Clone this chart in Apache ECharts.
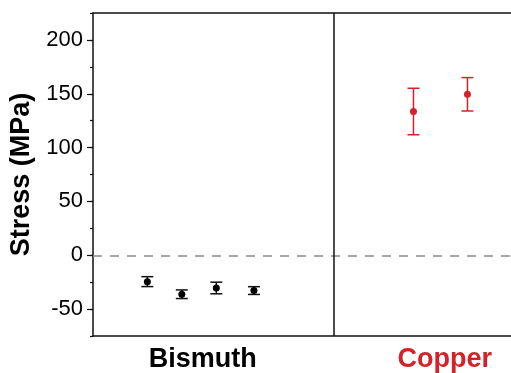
<!DOCTYPE html>
<html>
<head>
<meta charset="utf-8">
<script src="https://cdn.jsdelivr.net/npm/echarts@6/dist/echarts.min.js"></script>
<style>
html, body { margin: 0; padding: 0; background: #fff; }
#chart { width: 511px; height: 373px; }
</style>
</head>
<body>
<div id="chart"></div>
<script>
// groups along the x axis and where their label sits
var groups = ['Bismuth', 'Copper'];
var groupX = [3.15, 10.1];
// sample positions, mean stress and error (MPa)
var bismuthX = [1.56, 2.55, 3.54, 4.62];
var bismuthY = [-24.5, -36.2, -30.4, -32.8];
var bismuthErr = [4.6, 4.0, 5.4, 3.6];
var copperX = [9.2, 10.75];
var copperY = [133.5, 149.5];
var copperErr = [21.6, 15.5];
var yTicks = [-50, 0, 50, 100, 150, 200];
var dividerX = 6.92;

var red = '#d2232a';
var ink = '#111';

function points(xs, ys) {
  var out = [];
  for (var i = 0; i < xs.length; i++) out.push([xs[i], ys[i]]);
  return out;
}

function bars(xs, ys, errs) {
  var out = [];
  for (var i = 0; i < xs.length; i++) out.push([xs[i], ys[i] - errs[i], ys[i] + errs[i]]);
  return out;
}

function errorBars(color) {
  return function (params, api) {
    var x = api.value(0);
    var top = api.coord([x, api.value(2)]);
    var bot = api.coord([x, api.value(1)]);
    var w = 6;
    var style = { stroke: color, lineWidth: 1.5 };
    return {
      type: 'group',
      children: [
        { type: 'line', shape: { x1: top[0], y1: top[1], x2: bot[0], y2: bot[1] }, style: style },
        { type: 'line', shape: { x1: top[0] - w, y1: top[1], x2: top[0] + w, y2: top[1] }, style: style },
        { type: 'line', shape: { x1: bot[0] - w, y1: bot[1], x2: bot[0] + w, y2: bot[1] }, style: style }
      ]
    };
  };
}

var myChart = echarts.init(document.getElementById('chart'));
var option = {
  animation: false,
  grid: { left: 93, right: 0, top: 13, bottom: 36 },
  xAxis: [
    {
      type: 'value',
      min: 0,
      max: 12,
      position: 'bottom',
      splitLine: { show: false },
      axisTick: { show: false },
      axisLine: { onZero: false, lineStyle: { color: ink, width: 1.5 } },
      axisLabel: {
        customValues: groupX,
        margin: 10,
        formatter: function (v) {
          var i = groupX.indexOf(v);
          if (i < 0) return '';
          return '{g' + i + '|' + groups[i] + '}';
        },
        rich: {
          g0: { fontSize: 27, fontWeight: 'bold', color: '#000', fontFamily: 'Liberation Sans' },
          g1: { fontSize: 27, fontWeight: 'bold', color: red, fontFamily: 'Liberation Sans' }
        }
      }
    },
    {
      type: 'value',
      min: 0,
      max: 12,
      position: 'top',
      splitLine: { show: false },
      axisTick: { show: false },
      axisLabel: { show: false },
      axisLine: { onZero: false, lineStyle: { color: ink, width: 1.5 } }
    }
  ],
  yAxis: [
    {
      type: 'value',
      position: 'left',
      min: -75,
      max: 225,
      interval: 25,
      name: 'Stress (MPa)',
      nameLocation: 'middle',
      nameGap: 57,
      nameTextStyle: { fontSize: 27, fontWeight: 'bold', color: '#000', fontFamily: 'Liberation Sans' },
      splitLine: { show: false },
      axisLine: { onZero: false, lineStyle: { color: ink, width: 1.5 } },
      axisTick: { length: 3, lineStyle: { color: ink, width: 1.2 } },
      axisLabel: {
        margin: 10,
        fontSize: 22,
        color: '#000',
        fontFamily: 'Liberation Sans',
        formatter: function (v) { return v % 50 === 0 ? String(v) : ''; }
      }
    },
    {
      type: 'value',
      position: 'left',
      offset: 0,
      min: -75,
      max: 225,
      splitLine: { show: false },
      axisLine: { show: false, onZero: false },
      axisLabel: { show: false },
      axisTick: { customValues: yTicks, length: 6, lineStyle: { color: ink, width: 1.2 } }
    }
  ],
  series: [
    {
      type: 'custom',
      renderItem: errorBars(ink),
      data: bars(bismuthX, bismuthY, bismuthErr),
      encode: { x: 0, y: [1, 2] },
      z: 3
    },
    {
      type: 'custom',
      renderItem: errorBars(red),
      data: bars(copperX, copperY, copperErr),
      encode: { x: 0, y: [1, 2] },
      z: 3
    },
    {
      type: 'scatter',
      symbol: 'circle',
      symbolSize: 7,
      itemStyle: { color: '#000', opacity: 1 },
      data: points(bismuthX, bismuthY),
      z: 4,
      markLine: {
        silent: true,
        symbol: 'none',
        label: { show: false },
        data: [
          { yAxis: 0, lineStyle: { color: '#8a8a8a', width: 1.6, type: [9, 8] } },
          { xAxis: dividerX, lineStyle: { color: ink, width: 1.5, type: 'solid' } }
        ]
      }
    },
    {
      type: 'scatter',
      symbol: 'circle',
      symbolSize: 7,
      itemStyle: { color: red, opacity: 1 },
      data: points(copperX, copperY),
      z: 4
    }
  ]
};
option && myChart.setOption(option);
</script>
</body>
</html>
